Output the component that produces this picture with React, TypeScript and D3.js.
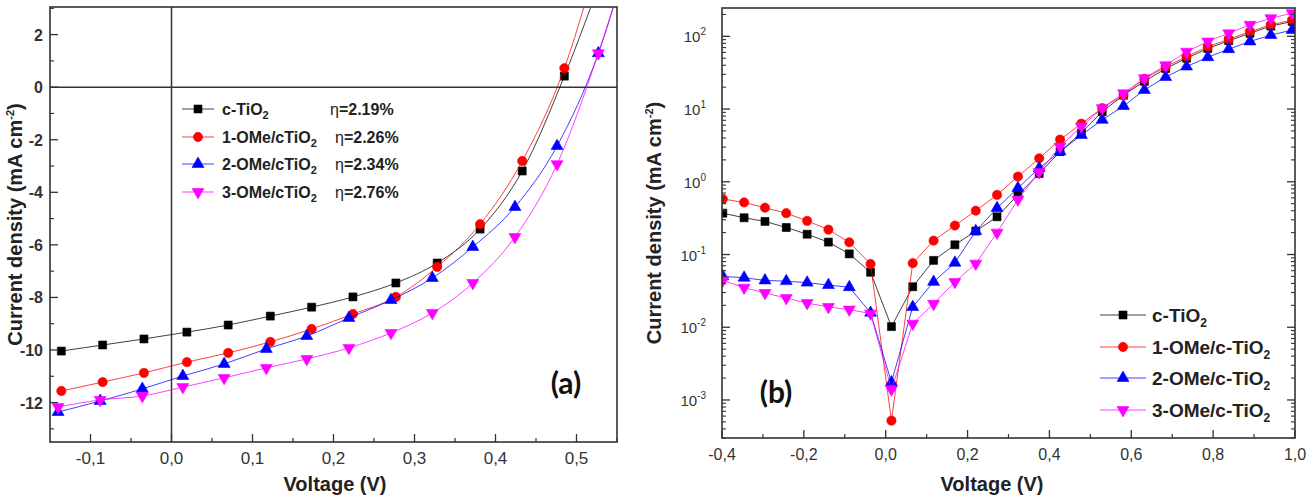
import * as d3 from 'd3';

// panel (a): J-V under illumination
const voltsA_ref = [-0.136, -0.085, -0.034, 0.019, 0.07, 0.122, 0.173, 0.224, 0.277, 0.328, 0.381, 0.433, 0.485, 0.536];
const voltsA_mod = [-0.14, -0.088, -0.036, 0.014, 0.065, 0.117, 0.167, 0.219, 0.271, 0.322, 0.372, 0.424, 0.476, 0.527, 0.578];
const jA_cTiO2 = [-10.04, -9.81, -9.58, -9.32, -9.05, -8.71, -8.37, -7.98, -7.45, -6.69, -5.4, -3.19, 0.42, 4.6];
const jA_1OMe = [-11.56, -11.22, -10.87, -10.46, -10.11, -9.69, -9.2, -8.63, -7.98, -6.84, -5.21, -2.81, 0.72, 6.0];
const jA_2OMe = [-12.36, -11.94, -11.48, -10.99, -10.53, -9.96, -9.47, -8.78, -8.1, -7.26, -6.08, -4.56, -2.24, 1.29, 6.6];
const jA_3OMe = [-12.17, -11.9, -11.75, -11.41, -11.06, -10.68, -10.34, -9.92, -9.35, -8.59, -7.45, -5.7, -2.93, 1.29, 6.4];
const legendA = ['c-TiO', '1-OMe/cTiO', '2-OMe/cTiO', '3-OMe/cTiO'];
const etaA = ['2.19%', '2.26%', '2.34%', '2.76%'];

// panel (b): dark current, log scale
const voltsB = [
  -0.398, -0.346, -0.295, -0.243, -0.192, -0.14, -0.089, -0.037, 0.014, 0.066, 0.117, 0.169, 0.22, 0.272,
  0.323, 0.375, 0.426, 0.478, 0.529, 0.581, 0.632, 0.684, 0.735, 0.787, 0.838, 0.89, 0.941, 0.993,
];
const jB_cTiO2 = [
  0.37, 0.32, 0.285, 0.235, 0.19, 0.148, 0.102, 0.057, 0.0102, 0.036, 0.083, 0.136, 0.21, 0.33,
  0.66, 1.3, 2.6, 4.7, 9.2, 15.5, 24, 36, 50, 68, 87, 110, 138, 160,
];
const jB_1OMe = [
  0.58, 0.52, 0.44, 0.37, 0.29, 0.22, 0.147, 0.074, 0.00052, 0.076, 0.155, 0.25, 0.4, 0.66,
  1.18, 2.1, 3.8, 6.3, 10.3, 15.6, 26, 38, 52.6, 72, 91, 116, 144, 167,
];
const jB_2OMe = [
  0.05, 0.048, 0.044, 0.043, 0.041, 0.038, 0.0355, 0.0158, 0.00175, 0.019, 0.042, 0.077, 0.21, 0.435,
  0.82, 1.54, 2.6, 4.4, 7.1, 11, 18.3, 27.5, 38.4, 51.5, 66.5, 85, 104, 122,
];
const jB_3OMe = [
  0.044, 0.035, 0.0296, 0.0252, 0.0215, 0.019, 0.0175, 0.0154, 0.0014, 0.0112, 0.021, 0.042, 0.075, 0.2,
  0.57, 1.36, 3.05, 5.75, 10.3, 16.5, 26.5, 40, 61.5, 85, 110, 144, 177, 208,
];
const legendB = ['c-TiO', '1-OMe/c-TiO', '2-OMe/c-TiO', '3-OMe/c-TiO'];

const colors = ['#000000', '#ff0000', '#0000ff', '#ff00ff'];
const shapes = ['square', 'circle', 'up', 'down'];

const FONT = '"Liberation Sans", Arial, sans-serif';

function Marker({ kind, color, x, y }: { kind: string; color: string; x: number; y: number }) {
  const sym = kind === 'square' ? d3.symbolSquare : kind === 'circle' ? d3.symbolCircle : d3.symbolTriangle;
  const size = kind === 'square' ? 64 : kind === 'circle' ? 68 : 62;
  const d = d3.symbol(sym, size)() as string;
  return (
    <path
      d={d}
      transform={`translate(${x},${y}) rotate(${kind === 'down' ? 180 : 0})`}
      fill={color}
      stroke={color}
      strokeWidth={0.6}
    />
  );
}

const comma = (v: number, n: number) => (Math.abs(v) < 1e-9 ? 0 : v).toFixed(n).replace('.', ',');

export default function App() {
  const xA = d3.scaleLinear().domain([-0.15, 0.55]).range([50, 617]);
  const yA = d3.scaleLinear().domain([-13.5, 3.05]).range([442, 7]);
  const xB = d3.scaleLinear().domain([-0.4, 1.0]).range([722, 1295]);
  const yB = d3.scaleLog().domain([3.0e-4, 245]).range([438, 8]);

  const [aL, aR] = xA.range();
  const [aB, aT] = yA.range();
  const [bL, bR] = xB.range();
  const [bB, bT] = yB.range();

  const seriesA = [
    { v: voltsA_ref, j: jA_cTiO2 },
    { v: voltsA_ref, j: jA_1OMe },
    { v: voltsA_mod, j: jA_2OMe },
    { v: voltsA_mod, j: jA_3OMe },
  ];
  const seriesB = [jB_cTiO2, jB_1OMe, jB_2OMe, jB_3OMe];

  const lineA = d3
    .line<[number, number]>()
    .x((d) => xA(d[0]))
    .y((d) => yA(d[1]))
    .curve(d3.curveMonotoneX);
  const lineB = d3
    .line<[number, number]>()
    .x((d) => xB(d[0]))
    .y((d) => yB(d[1]));

  const yAMajor = d3.range(-12, 3, 2);
  const yAMinor = d3.range(-13, 4, 2);
  const xAMajor = [-0.1, 0, 0.1, 0.2, 0.3, 0.4, 0.5];
  const xAMinor = [-0.05, 0.05, 0.15, 0.25, 0.35, 0.45, 0.55];

  const xBMajor = [-0.4, -0.2, 0, 0.2, 0.4, 0.6, 0.8, 1.0];
  const xBMinor = [-0.3, -0.1, 0.1, 0.3, 0.5, 0.7, 0.9];
  const decades = [-3, -2, -1, 0, 1, 2];
  const yBMinor: number[] = [];
  for (let e = -4; e <= 2; e++) {
    for (let m = 2; m <= 9; m++) {
      const v = m * Math.pow(10, e);
      if (v >= yB.domain()[0] && v <= yB.domain()[1]) yBMinor.push(v);
    }
  }

  const axisColor = '#333';
  const labelColor = '#333';

  return (
    <svg
      width={1308}
      height={495}
      style={{ position: 'absolute', left: 0, top: 0, background: '#fff', fontFamily: FONT }}
    >
      <defs>
        <clipPath id="clipA">
          <rect x={aL} y={aT} width={aR - aL} height={aB - aT} />
        </clipPath>
        <clipPath id="clipB">
          <rect x={bL} y={bT} width={bR - bL} height={bB - bT} />
        </clipPath>
      </defs>

      {/* ---------- panel (a) ---------- */}
      <line x1={xA(0)} x2={xA(0)} y1={aT} y2={aB} stroke={axisColor} strokeWidth={1.5} />
      <line x1={aL} x2={aR} y1={yA(0)} y2={yA(0)} stroke={axisColor} strokeWidth={1.5} />

      <g clipPath="url(#clipA)">
        {seriesA.map((s, i) => {
          const pts = s.v.map((v, k) => [v, s.j[k]] as [number, number]);
          return (
            <g key={i}>
              <path d={lineA(pts) as string} fill="none" stroke={colors[i]} strokeWidth={1} strokeOpacity={0.75} />
              {pts.map((p, k) => (
                <Marker key={k} kind={shapes[i]} color={colors[i]} x={xA(p[0])} y={yA(p[1])} />
              ))}
            </g>
          );
        })}
      </g>

      {yAMajor.map((t) => (
        <g key={'yam' + t}>
          <line x1={aL} x2={aL + 8} y1={yA(t)} y2={yA(t)} stroke={axisColor} strokeWidth={1.3} />
          <text x={43} y={yA(t) + 6} textAnchor="end" fontSize={16} fontWeight="bold" fill={labelColor}>
            {t}
          </text>
        </g>
      ))}
      {yAMinor.map((t) => (
        <line key={'yan' + t} x1={aL} x2={aL + 4} y1={yA(t)} y2={yA(t)} stroke={axisColor} strokeWidth={1.2} />
      ))}
      {xAMajor.map((t) => (
        <g key={'xam' + t}>
          <line x1={xA(t)} x2={xA(t)} y1={aB} y2={aB - 8} stroke={axisColor} strokeWidth={1.3} />
          <text x={xA(t)} y={464} textAnchor="middle" fontSize={17} fill={labelColor}>
            {comma(t, 1)}
          </text>
        </g>
      ))}
      {xAMinor.map((t) => (
        <line key={'xan' + t} x1={xA(t)} x2={xA(t)} y1={aB} y2={aB - 4} stroke={axisColor} strokeWidth={1.2} />
      ))}
      <rect x={aL} y={aT} width={aR - aL} height={aB - aT} fill="none" stroke={axisColor} strokeWidth={1.6} />

      {/* legend (a) */}
      {legendA.map((name, i) => {
        const cy = [109, 137, 164, 192][i];
        return (
          <g key={'la' + i}>
            <line x1={182} x2={214} y1={cy} y2={cy} stroke={colors[i]} strokeWidth={1} strokeOpacity={0.75} />
            <Marker kind={shapes[i]} color={colors[i]} x={198} y={cy} />
            <text x={222} y={cy + 6} fontSize={16} fontWeight="bold" fill="#222">
              {name}
              <tspan dy={4} fontSize={11}>2</tspan>
            </text>
            <text x={i === 0 ? 330 : 335} y={cy + 6} fontSize={16} fontWeight="bold" fill="#222">
              <tspan fontWeight="normal">η</tspan>={etaA[i]}
            </text>
          </g>
        );
      })}

      <text x={566} y={394} textAnchor="middle" fontSize={30} fontWeight="bold" fontFamily="Lato, 'Open Sans', sans-serif" fill="#111">
        (a)
      </text>

      <text x={335} y={491} textAnchor="middle" fontSize={20} fontWeight="bold" fill="#222">
        Voltage (V)
      </text>
      <text
        transform={`translate(22,${(aT + aB) / 2}) rotate(-90)`}
        textAnchor="middle"
        fontSize={20}
        fontWeight="bold"
        fill="#222"
      >
        Current density (mA cm<tspan dy={-8} fontSize={11}>-2</tspan>
        <tspan dy={8}>)</tspan>
      </text>

      {/* ---------- panel (b) ---------- */}
      <g clipPath="url(#clipB)">
        {seriesB.map((j, i) => {
          const pts = voltsB.map((v, k) => [v, j[k]] as [number, number]);
          return (
            <g key={i}>
              <path d={lineB(pts) as string} fill="none" stroke={colors[i]} strokeWidth={1} strokeOpacity={0.75} />
              {pts.map((p, k) => (
                <Marker key={k} kind={shapes[i]} color={colors[i]} x={xB(p[0])} y={yB(p[1])} />
              ))}
            </g>
          );
        })}
      </g>

      {decades.map((e) => {
        const y = yB(Math.pow(10, e));
        return (
          <g key={'dec' + e}>
            <line x1={bL} x2={bL + 8} y1={y} y2={y} stroke={axisColor} strokeWidth={1.3} />
            <line x1={bR} x2={bR - 8} y1={y} y2={y} stroke={axisColor} strokeWidth={1.3} />
            <text x={706} y={y + 6} textAnchor="end" fontSize={15} fill={labelColor}>
              10
              <tspan dy={-7} fontSize={10}>
                {e}
              </tspan>
            </text>
          </g>
        );
      })}
      {yBMinor.map((v, i) => (
        <g key={'ybn' + i}>
          <line x1={bL} x2={bL + 4} y1={yB(v)} y2={yB(v)} stroke={axisColor} strokeWidth={1.1} />
          <line x1={bR} x2={bR - 4} y1={yB(v)} y2={yB(v)} stroke={axisColor} strokeWidth={1.1} />
        </g>
      ))}
      {xBMajor.map((t) => (
        <g key={'xbm' + t}>
          <line x1={xB(t)} x2={xB(t)} y1={bB} y2={bB - 8} stroke={axisColor} strokeWidth={1.3} />
          <text x={xB(t)} y={460} textAnchor="middle" fontSize={16} fill={labelColor}>
            {comma(t, 1)}
          </text>
        </g>
      ))}
      {xBMinor.map((t) => (
        <line key={'xbn' + t} x1={xB(t)} x2={xB(t)} y1={bB} y2={bB - 4} stroke={axisColor} strokeWidth={1.2} />
      ))}
      <rect x={bL} y={bT} width={bR - bL} height={bB - bT} fill="none" stroke={axisColor} strokeWidth={1.6} />

      {/* legend (b) */}
      {legendB.map((name, i) => {
        const cy = [315, 347, 378, 410][i];
        return (
          <g key={'lb' + i}>
            <line x1={1100} x2={1146} y1={cy} y2={cy} stroke={colors[i]} strokeWidth={1} strokeOpacity={0.75} />
            <Marker kind={shapes[i]} color={colors[i]} x={1123} y={cy} />
            <text x={1152} y={cy + 7} fontSize={19} fontWeight="bold" fill="#222">
              {name}
              <tspan dy={5} fontSize={12}>2</tspan>
            </text>
          </g>
        );
      })}

      <text x={776} y={403} textAnchor="middle" fontSize={30} fontWeight="bold" fontFamily="Lato, 'Open Sans', sans-serif" fill="#111">
        (b)
      </text>

      <text x={992} y={491} textAnchor="middle" fontSize={20} fontWeight="bold" fill="#222">
        Voltage (V)
      </text>
      <text
        transform={`translate(661,${(bT + bB) / 2}) rotate(-90)`}
        textAnchor="middle"
        fontSize={20}
        fontWeight="bold"
        fill="#222"
      >
        Current density (mA cm<tspan dy={-8} fontSize={11}>-2</tspan>
        <tspan dy={8}>)</tspan>
      </text>
    </svg>
  );
}
